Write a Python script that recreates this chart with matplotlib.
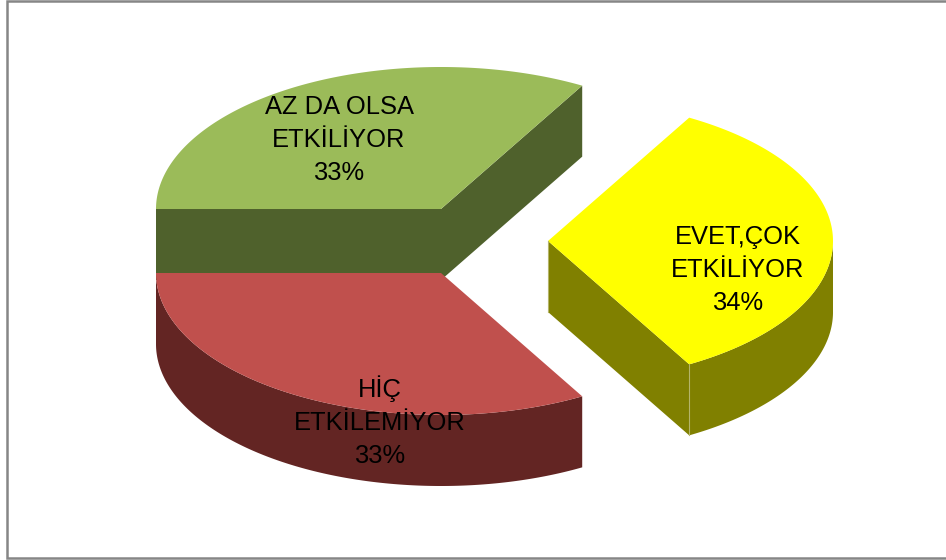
import numpy as np
import matplotlib
matplotlib.use("Agg")
import matplotlib.pyplot as plt

categories = ["EVET,ÇOK\nETKİLİYOR", "AZ DA OLSA\nETKİLİYOR", "HİÇ\nETKİLEMİYOR"]
values = [33.5, 33.25, 33.25]
percent_labels = ["34%", "33%", "33%"]

top_colors = ["#FFFF00", "#9BBB59", "#C0504D"]
side_colors = ["#808000", "#4F612C", "#632523"]
centers = [(548, 241), (441, 209), (441, 273)]
label_pos = [(738, 270), (339, 140), (380, 422)]
RX, RY, DEPTH = 285, 142, 71
START = -values[0] * 3.6 / 2

plt.rcParams["font.family"] = ["Liberation Sans", "DejaVu Sans"]
fig = plt.figure(figsize=(9.46, 5.6), dpi=100, facecolor="white")
ax = fig.add_axes([0, 0, 1, 1])
ax.set_xlim(0, 946)
ax.set_ylim(560, 0)
ax.axis("off")

def pt(c, deg, dz=0.0):
    t = np.radians(deg)
    return c[0] + RX * np.cos(t), c[1] - RY * np.sin(t) + dz

def arc(c, a0, a1, dz=0.0):
    d = np.linspace(a0, a1, 200)
    t = np.radians(d)
    return c[0] + RX * np.cos(t), c[1] - RY * np.sin(t) + dz

def cut_face(c, deg, color, z):
    x, y = pt(c, deg)
    ax.fill([c[0], x, x, c[0]], [c[1], y, y + DEPTH, c[1] + DEPTH],
            color=color, lw=0, zorder=z)

# wedge limits come from the values
edges = START + np.cumsum([0] + values) * 3.6

# green slice
a0, a1 = edges[1], edges[2]
cut_face(centers[1], a0, side_colors[1], 1)
cut_face(centers[1], a1, side_colors[1], 1)
ax.fill(*zip(centers[1], *zip(*arc(centers[1], a0, a1))), color=top_colors[1], lw=0, zorder=2)

# red slice
a0, a1 = edges[2], edges[3]
xa, ya = arc(centers[2], a0, a1)
xb, yb = arc(centers[2], a1, a0, DEPTH)
ax.fill(np.r_[xa, xb], np.r_[ya, yb], color=side_colors[2], lw=0, zorder=3)
ax.fill(*zip(centers[2], *zip(*arc(centers[2], a0, a1))), color=top_colors[2], lw=0, zorder=4)

# yellow slice
a0, a1 = edges[0], edges[1]
cut_face(centers[0], a0, side_colors[0], 1)
xa, ya = arc(centers[0], a0, 0)
xb, yb = arc(centers[0], 0, a0, DEPTH)
ax.fill(np.r_[xa, xb], np.r_[ya, yb], color=side_colors[0], lw=0, zorder=1)
ax.fill(*zip(centers[0], *zip(*arc(centers[0], a0, a1))), color=top_colors[0], lw=0, zorder=2)
tx, ty = pt(centers[0], a0)
ax.plot([tx, tx], [ty, ty + DEPTH], color="#B5B56A", lw=0.8, zorder=3)
ax.plot([centers[0][0]] * 2, [centers[0][1], centers[0][1] + DEPTH], color="#B5B56A", lw=0.8, zorder=3)

for name, pct, (x, y) in zip(categories, percent_labels, label_pos):
    ax.text(x, y, f"{name}\n{pct}", ha="center", va="center", ma="center",
            fontsize=18.4, color="black", linespacing=1.47, zorder=6)

# chart frame
ax.plot([946, 7, 7, 946], [1, 1, 558, 558], color="#868686", lw=1.8, zorder=7,
        solid_joinstyle="miter", clip_on=False)

fig.savefig("out.png", dpi=100, facecolor="white")
